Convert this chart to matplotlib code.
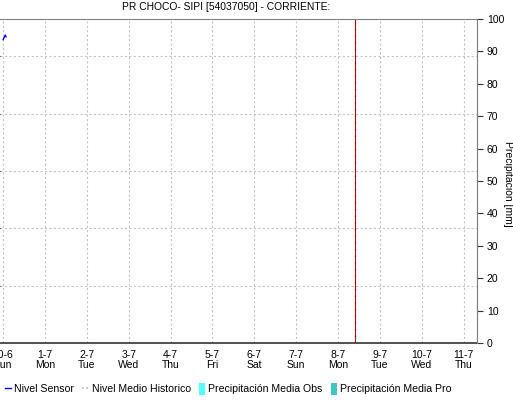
import matplotlib
matplotlib.use('Agg')
import matplotlib.pyplot as plt
from matplotlib.lines import Line2D
from matplotlib.patches import Patch

plt.rcParams['font.family'] = ['Liberation Sans', 'DejaVu Sans']

# etiquetas de los dias (dia 0 = 30-6)
day_labels = ['30-6', '1-7', '2-7', '3-7', '4-7', '5-7', '6-7',
              '7-7', '8-7', '9-7', '10-7', '11-7']
weekdays = ['Sun', 'Mon', 'Tue', 'Wed', 'Thu', 'Fri', 'Sat',
            'Sun', 'Mon', 'Tue', 'Wed', 'Thu']

# nivel sensor (eje izquierdo oculto)
sensor_t = [0.0, 0.025, 0.05, 0.07]
sensor_level = [5.29, 5.33, 5.37, 5.34]

# hora actual (dias desde 30-6)
now_t = 8.407

precip_ticks = list(range(0, 101, 10))

fig = plt.figure(figsize=(5.13, 4.04), dpi=100)
ax = fig.add_axes([0.0, 61 / 404, 477 / 513, 324 / 404])

ax.set_xlim(-0.075, 11.32)
ax.set_ylim(0, 5.65)
ax.plot(sensor_t, sensor_level, color='#0000ff', lw=1)

# lineas de fondo
ax.set_xticks(range(len(day_labels)))
ax.set_xticklabels([d + '\n' + w for d, w in zip(day_labels, weekdays)],
                   fontsize=7.5, linespacing=1.05)
ax.tick_params(axis='x', length=0, pad=5)
ax.set_yticks([1, 2, 3, 4, 5])
ax.tick_params(axis='y', left=False, labelleft=False)
ax.grid(True, color='#c4c4c4', linestyle=(0, (2, 2)), lw=0.8)

ax.axvline(now_t, color='#cc0000', lw=0.8)
ax.axvline(now_t, color='#222222', lw=0.8, linestyle=(0, (1, 5)))

ax.spines['left'].set_visible(False)
ax.spines['top'].set_color('#808080')
ax.spines['right'].set_color('#808080')
ax.spines['bottom'].set_color('#333333')
ax.spines['bottom'].set_linestyle((0, (1, 1)))
ax.spines['bottom'].set_linewidth(1.2)

ax2 = ax.twinx()
ax2.set_ylim(0, 100)
ax2.set_yticks(precip_ticks)
ax2.tick_params(axis='y', length=4, width=0.8, pad=3, labelsize=7.5,
                color='#333333')
for s in ['left', 'top', 'bottom']:
    ax2.spines[s].set_visible(False)
ax2.spines['right'].set_color('#808080')

fig.text(508 / 513, 1 - 184 / 404, 'Precipitación [mm]', rotation=270,
         ha='center', va='center', fontsize=7.5)

fig.text(226 / 513, 1 - 7.5 / 404, 'PR CHOCO- SIPI [54037050] - CORRIENTE:',
         ha='center', va='center', fontsize=7.4)

handles = [
    Line2D([], [], color='#0000ff', lw=1),
    Line2D([], [], color='#c0c0c0', lw=1.2, linestyle=(0, (1.2, 1.2))),
    Patch(facecolor='#55ffff', edgecolor='none'),
    Patch(facecolor='#40c4c4', edgecolor='none'),
]
labels = ['Nivel Sensor', 'Nivel Medio Historico',
          'Precipitación Media Obs', 'Precipitación Media Pro']
fig.legend(handles, labels, loc='center left',
           bbox_to_anchor=(5 / 513, 1 - 389 / 404), ncol=4, frameon=False,
           fontsize=7.6, handlelength=0.6, handleheight=1.5,
           handletextpad=0.3, columnspacing=0.75, borderpad=0,
           borderaxespad=0)

fig.savefig('out.png', dpi=100)
